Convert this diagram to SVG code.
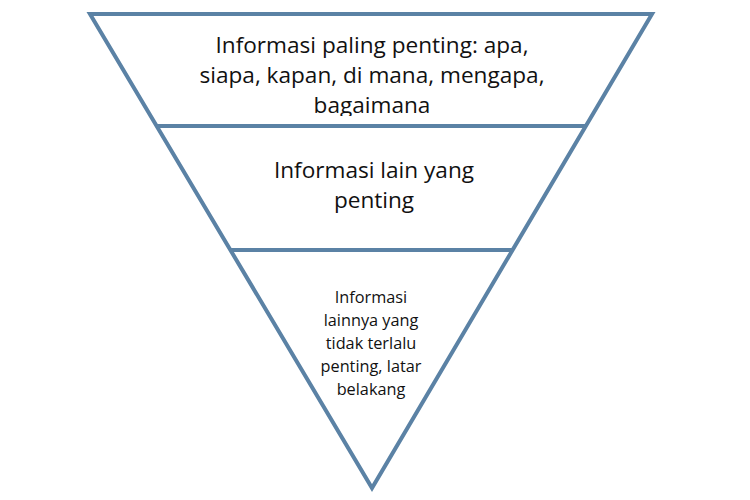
<svg xmlns="http://www.w3.org/2000/svg" width="750" height="500" viewBox="0 0 750 500">
<style>
.edge{fill:none;stroke:#5b82a5;stroke-width:4;stroke-linejoin:miter}
.t{font-family:"Open Sans","Noto Sans",sans-serif;fill:#111111;text-anchor:middle}
.big{font-size:22.6px}
.small{font-size:16.3px}
</style>
<defs>
<clipPath id="topclip"><rect x="0" y="0" width="750" height="116"/></clipPath>
</defs>
<rect width="750" height="500" fill="#ffffff"/>
<g id="tier1">
<g clip-path="url(#topclip)">
<text class="t big" x="372" y="53">Informasi paling penting: apa,</text>
<text class="t big" x="372" y="83">siapa, kapan, di mana, mengapa,</text>
<text class="t big" x="372" y="113">bagaimana</text>
</g>
</g>
<g id="tier2">
<text class="t big" x="374" y="178">Informasi lain yang</text>
<text class="t big" x="374" y="208">penting</text>
</g>
<g id="tier3">
<text class="t small" x="371" y="303">Informasi</text>
<text class="t small" x="371" y="326">lainnya yang</text>
<text class="t small" x="371" y="349">tidak terlalu</text>
<text class="t small" x="371" y="372">penting, latar</text>
<text class="t small" x="371" y="395">belakang</text>
</g>
<g id="connectors">
<polygon class="edge" points="90,14 652,14 372,488"/>
<line class="edge" x1="156" y1="126" x2="587" y2="126"/>
<line class="edge" x1="230" y1="250" x2="513" y2="250"/>
</g>
</svg>
